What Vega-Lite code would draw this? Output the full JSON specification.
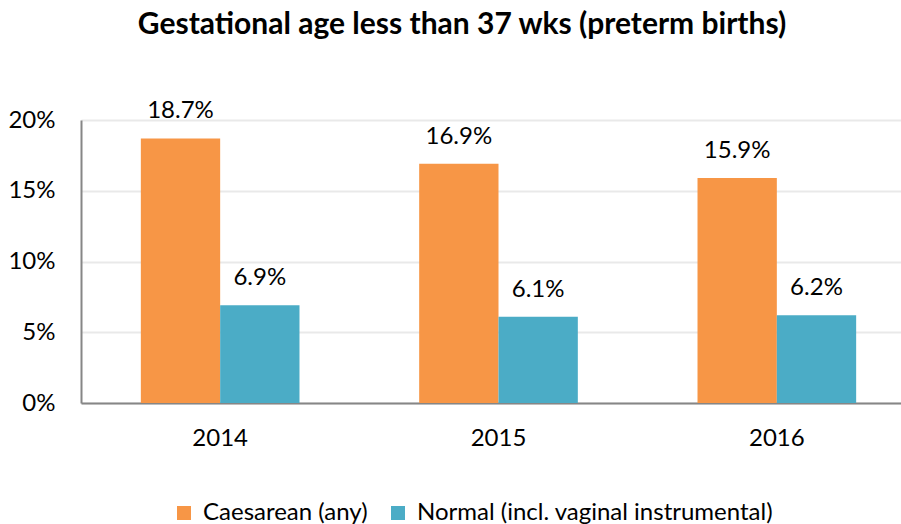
{
  "$schema": "https://vega.github.io/schema/vega-lite/v6.json",
  "width": 820,
  "height": 283,
  "autosize": {"type": "none"},
  "padding": {"left": 81, "top": 120, "right": 0, "bottom": 121},
  "background": "white",
  "config": {
    "font": "Lato",
    "view": {"stroke": null}
  },
  "title": {
    "text": "Gestational age less than 37 wks (preterm births)",
    "font": "Lato",
    "fontSize": 30,
    "fontWeight": "bold",
    "color": "#000000",
    "anchor": "middle",
    "dx": -29,
    "offset": 59
  },
  "data": {
    "values": [
      {"year": "2014", "type": "Caesarean (any)", "value": 0.187},
      {"year": "2014", "type": "Normal (incl. vaginal instrumental)", "value": 0.069},
      {"year": "2015", "type": "Caesarean (any)", "value": 0.169},
      {"year": "2015", "type": "Normal (incl. vaginal instrumental)", "value": 0.061},
      {"year": "2016", "type": "Caesarean (any)", "value": 0.159},
      {"year": "2016", "type": "Normal (incl. vaginal instrumental)", "value": 0.062}
    ]
  },
  "encoding": {
    "x": {
      "field": "year",
      "type": "nominal",
      "scale": {"range": [0, 835], "paddingInner": 0.43, "paddingOuter": 0.215},
      "axis": {
        "title": null,
        "labelAngle": 0,
        "labelFontSize": 24,
        "labelColor": "#000000",
        "labelBaseline": "alphabetic",
        "labelPadding": 42,
        "ticks": false,
        "tickSize": 0,
        "domainColor": "#868686",
        "domainWidth": 2
      }
    },
    "xOffset": {
      "field": "type",
      "type": "nominal",
      "scale": {"domain": ["Caesarean (any)", "Normal (incl. vaginal instrumental)"], "paddingInner": 0, "paddingOuter": 0}
    },
    "y": {
      "field": "value",
      "type": "quantitative",
      "scale": {"domain": [0, 0.2], "nice": false},
      "axis": {
        "title": null,
        "format": "0%",
        "values": [0, 0.05, 0.1, 0.15, 0.2],
        "labelFontSize": 24,
        "labelColor": "#000000",
        "labelPadding": 26,
        "ticks": false,
        "tickSize": 0,
        "domainColor": "#868686",
        "domainWidth": 2,
        "gridColor": "#e9e9e9",
        "gridWidth": 2
      }
    }
  },
  "layer": [
    {
      "mark": {"type": "bar"},
      "encoding": {
        "color": {
          "field": "type",
          "type": "nominal",
          "scale": {
            "domain": ["Caesarean (any)", "Normal (incl. vaginal instrumental)"],
            "range": ["#F79646", "#4BACC6"]
          },
          "legend": {
            "title": null,
            "orient": "none",
            "direction": "horizontal",
            "legendX": 91,
            "legendY": 381,
            "symbolType": "square",
            "symbolSize": 196,
            "symbolStrokeWidth": 0,
            "labelFontSize": 24,
            "labelLimit": 0,
            "labelColor": "#000000",
            "columnPadding": 18,
            "labelOffset": 7
          }
        }
      }
    },
    {
      "mark": {"type": "text", "baseline": "alphabetic", "dy": -20, "fontSize": 24, "color": "#000000"},
      "encoding": {
        "text": {"field": "value", "type": "quantitative", "format": ".1%"}
      }
    }
  ]
}
